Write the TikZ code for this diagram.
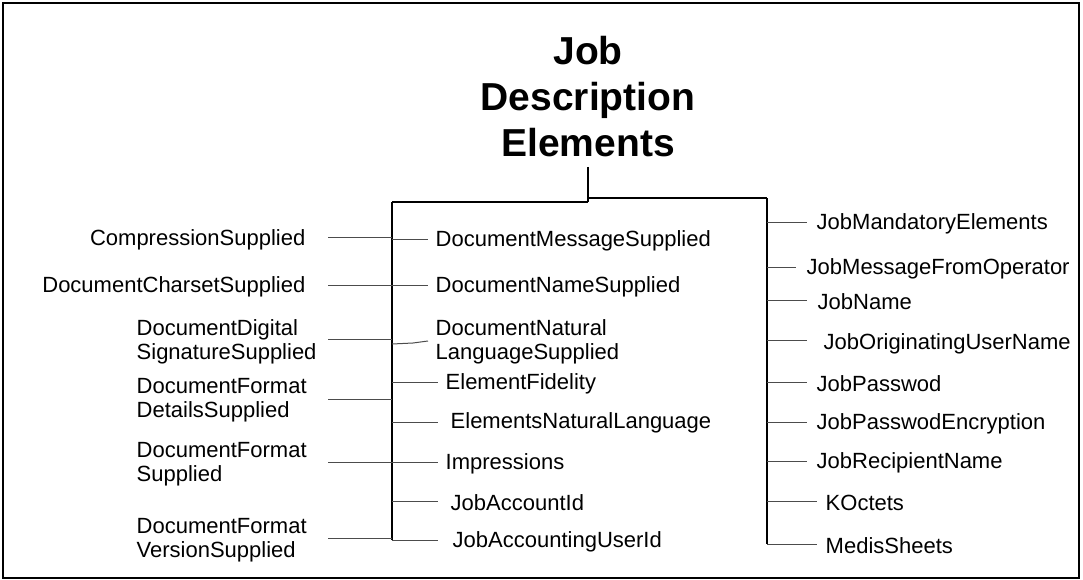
\documentclass[tikz,border=0pt]{standalone}
\usepackage{fontspec}
\setmainfont{Liberation Sans}
\begin{document}
\begin{tikzpicture}[x=1pt,y=-1pt,
  item/.style={font=\fontsize{22}{24.5}\selectfont, inner sep=0pt, align=left, anchor=west},
  ritem/.style={font=\fontsize{22}{24.5}\selectfont, inner sep=0pt, align=right, anchor=east},
  titletext/.style={font=\fontsize{39}{46}\selectfont\bfseries, inner sep=0pt, align=center},
  branch/.style={line width=1pt, draw=black!70},
  bus/.style={line width=1.3pt, draw=black},
  frame/.style={line width=2pt, draw=black}]
\useasboundingbox (0,0) rectangle (1083,580);
\draw[frame] (3,3) rectangle (1079,578);

% title
\node[titletext] (title) at (588,97) {Job\\Description\\Elements};
\coordinate (ts) at (588,167);
\coordinate (tj) at (588,202);
\coordinate (tr) at (588,198);
\coordinate (lbt) at (392,202);
\coordinate (lbb) at (392,540);
\coordinate (rbt) at (767,198);
\coordinate (rbb) at (767,544);

% buses
\draw[bus] (ts) -- (tj);
\draw[bus, line width=2pt] (tj) -- (lbt);
\draw[bus] (tr) -- (rbt);
\draw[bus] (lbt) -- (lbb);
\draw[bus] (rbt) -- (rbb);

% left column
\node[ritem] (l1) at (305.5,240) {CompressionSupplied};
\node[ritem] (l2) at (305.5,287) {DocumentCharsetSupplied};
\node[item] (l3) at (136.5,342) {DocumentDigital\\SignatureSupplied};
\node[item] (l4) at (136.5,400) {DocumentFormat\\DetailsSupplied};
\node[item] (l5) at (136.5,464) {DocumentFormat\\Supplied};
\node[item] (l6) at (136.5,540) {DocumentFormat\\VersionSupplied};

\coordinate (l1s) at (328,237); \coordinate (l1b) at (392,237);
\coordinate (l2s) at (328,285); \coordinate (l2b) at (392,285);
\coordinate (l3s) at (328,339); \coordinate (l3b) at (392,339);
\coordinate (l4s) at (328,399); \coordinate (l4b) at (392,399);
\coordinate (l5s) at (328,462); \coordinate (l5b) at (392,462);
\coordinate (l6s) at (328,538); \coordinate (l6b) at (392,538);
\draw[branch] (l1s) -- (l1b);
\draw[branch] (l2s) -- (l2b);
\draw[branch] (l3s) -- (l3b);
\draw[branch] (l4s) -- (l4b);
\draw[branch] (l5s) -- (l5b);
\draw[branch] (l6s) -- (l6b);

% middle column
\node[item] (m1) at (435.5,241) {DocumentMessageSupplied};
\node[item] (m2) at (435.5,287) {DocumentNameSupplied};
\node[item] (m3) at (435.5,342) {DocumentNatural\\LanguageSupplied};
\node[item] (m4) at (445.5,384) {ElementFidelity};
\node[item] (m5) at (450.5,423) {ElementsNaturalLanguage};
\node[item] (m6) at (445.5,464) {Impressions};
\node[item] (m7) at (450.5,503) {JobAccountId};
\node[item] (m8) at (452.5,542) {JobAccountingUserId};

\coordinate (m1b) at (392,239); \coordinate (m1e) at (428,239);
\coordinate (m2b) at (392,285); \coordinate (m2e) at (428,285);
\coordinate (m3b) at (392,344); \coordinate (m3k) at (413,343); \coordinate (m3e) at (428,341);
\coordinate (m4b) at (392,382); \coordinate (m4e) at (438,382);
\coordinate (m5b) at (392,422); \coordinate (m5e) at (438,422);
\coordinate (m6b) at (392,462); \coordinate (m6e) at (438,462);
\coordinate (m7b) at (392,501); \coordinate (m7e) at (438,501);
\coordinate (m8e) at (438,540);
\draw[branch] (m1b) -- (m1e);
\draw[branch] (m2b) -- (m2e);
\draw[branch] (m3b) -- (m3k) -- (m3e);
\draw[branch] (m4b) -- (m4e);
\draw[branch] (m5b) -- (m5e);
\draw[branch] (m6b) -- (m6e);
\draw[branch] (m7b) -- (m7e);
\draw[branch] (lbb) -- (m8e);

% right column
\node[item] (r1) at (816.5,224) {JobMandatoryElements};
\node[item] (r2) at (806.5,269) {JobMessageFromOperator};
\node[item] (r3) at (817.5,302) {JobName};
\node[item] (r4) at (823.5,344) {JobOriginatingUserName};
\node[item] (r5) at (816.5,384) {JobPasswod};
\node[item] (r6) at (816.5,424) {JobPasswodEncryption};
\node[item] (r7) at (816.5,463) {JobRecipientName};
\node[item] (r8) at (825.5,503) {KOctets};
\node[item] (r9) at (825.5,546) {MedisSheets};

\coordinate (r1b) at (767,222); \coordinate (r1e) at (807,222);
\coordinate (r2b) at (767,267); \coordinate (r2e) at (796,267);
\coordinate (r3b) at (767,300); \coordinate (r3e) at (807,300);
\coordinate (r4b) at (767,340); \coordinate (r4e) at (807,340);
\coordinate (r5b) at (767,382); \coordinate (r5e) at (807,382);
\coordinate (r6b) at (767,422); \coordinate (r6e) at (807,422);
\coordinate (r7b) at (767,461); \coordinate (r7e) at (807,461);
\coordinate (r8b) at (767,501); \coordinate (r8e) at (817,501);
\coordinate (r9e) at (817,544);
\draw[branch] (r1b) -- (r1e);
\draw[branch] (r2b) -- (r2e);
\draw[branch] (r3b) -- (r3e);
\draw[branch] (r4b) -- (r4e);
\draw[branch] (r5b) -- (r5e);
\draw[branch] (r6b) -- (r6e);
\draw[branch] (r7b) -- (r7e);
\draw[branch] (r8b) -- (r8e);
\draw[branch] (rbb) -- (r9e);
\end{tikzpicture}
\end{document}
